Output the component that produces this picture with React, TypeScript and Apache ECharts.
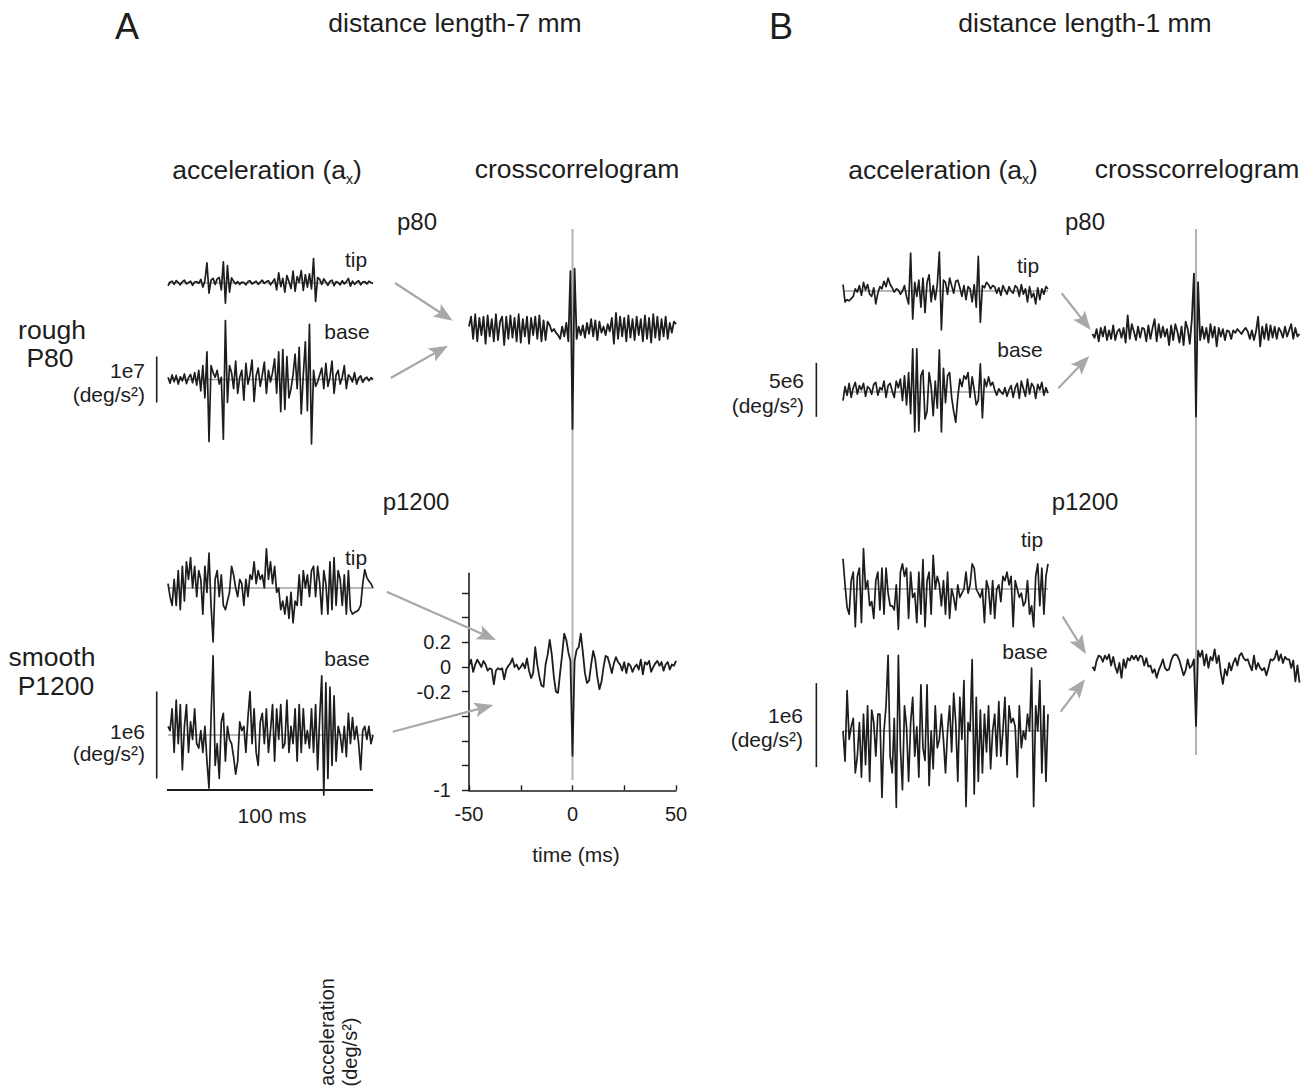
import React, { useEffect, useRef } from "react";
import * as echarts from "echarts";

// ---------- acceleration a_x, 100-ms windows (units: 1e6 deg/s^2) ----------
const WINDOW_MS = 100;

const A_P80_TIP = [
  -0.6, 0.2, 0.4, -0.3, 0.5, 0.1, -0.4, 0.3, 0.6, -0.2, 0.1, 0.4, -0.5, 0.2, 0.3, -0.1,
  0.8, -0.9, 0.5,
  4.4, -2.2, 0.6, 1.0, -0.3, 0.9, 1.2, -1.5, 4.6, -4.4, 3.8, -2.0, 1.1, 0.4, -0.2, 0.3,
  -0.3, 0.2, 0.1, -0.4, 0.3, 0.5, -0.2, 0.1, 0.4, -0.3, 0.2, 0.6, -0.1, 0.3, 0.5, -0.4, 0.2,
  0.9, -1.5, 2.2, -0.8, 1.0, -2.0, 1.6, 0.3, -1.2, 2.6, -1.8, 1.4, 0.2, 2.7, -1.6, 1.8, -0.9, 2.0, -1.3, 5.3, -4.0,
  1.2, 0.8, -0.3, 0.9, 0.2, -0.5, 0.4, 0.6, -0.6, 0.3, 0.1, -0.4, 0.5, -0.2, 0.3, 1.0, -0.7, 0.4, -0.3, 0.2, 0.5,
  -0.4, 0.2, 0.3, -0.2, 0.4, 0.1, -0.1,
];

const A_P80_BASE = [
  0.5, -0.8, 1.0, -0.5, 0.9, -1.0, 0.6, -0.3, 1.2, -0.9, 0.4, 1.1, -0.7, 1.5, -1.2,
  2.0, -2.5, 3.0, -4.0,
  6.0, -13.5, 3.0, 1.5, 0.5, 2.0, -1.0, 0.5, -13.0, 12.8, -5.0, 3.0,
  1.5, -2.0, 4.0, -3.0, 0.5, 2.0, -4.5, 3.5, -1.0, 1.0, 4.2, -4.8, 0.8, 2.5, -1.5, 1.0, 3.8, -3.0, 2.0, -0.5, 1.5, 4.5,
  -3.0, 6.0, -7.0, 6.5, -6.5, 5.0, -4.0, -2.0, 1.0, 5.5, -2.0, 7.0, -7.5, 1.0, 8.2, -6.8, 12.0, -14.0, 2.0, -1.5,
  -0.5, 1.0, 2.5, -2.0, 3.5, -1.5, 0.5, 4.0, -3.0, 1.0, 2.0, -1.0, 0.5, 3.0, -2.0, 1.0, 0.5, -0.5, 1.5, -1.0,
  0.3, 0.8, -0.6, 0.2, 0.5, -0.3, 0.4, 0.0,
];

const A_P1200_TIP = [
  0.05, -0.1, -0.2, 0.1, -0.2, 0.2, -0.25, 0.25, -0.15, 0.3, 0.1, 0.35, 0.0, 0.25, -0.1, 0.2, 0.1, -0.3, 0.25, -0.05,
  0.4, -0.2,
  -0.62, 0.1, 0.2, -0.1, 0.15, -0.2, -0.25, -0.15, -0.05, 0.25, 0.15, 0.0, -0.1, 0.1, 0.05, -0.2, 0.1, -0.1, 0.15,
  0.1, 0.3, 0.05, 0.2, 0.1, 0.15, 0.0, 0.45, 0.1, 0.3, 0.05, 0.25, -0.05, 0.0, -0.25, -0.15, -0.3, -0.1, -0.35,
  -0.05, -0.4, -0.15, -0.2, 0.15, -0.2, 0.2, 0.0, 0.15, -0.1, 0.2, 0.25, -0.1, 0.25, 0.05, -0.3, 0.2, 0.05, -0.3,
  0.3, -0.25, 0.35, -0.2, 0.2, 0.1,
  -0.2, 0.15, -0.3, 0.2, -0.25, -0.3, -0.28, -0.27, -0.25, -0.2, 0.05, 0.21, 0.12, 0.08, 0.05, 0.0,
];

const A_P1200_BASE = [
  0.1, 0.05, 0.3, -0.2, 0.4, -0.1, 0.35, -0.4, 0.1, 0.35, -0.2, 0.15, -0.05, 0.3, -0.1, -0.15, 0.05, -0.2, 0.1, -0.3,
  -0.61, 0.2, 0.91, -0.35, -0.1, -0.5, 0.15, 0.25, -0.3, 0.1,
  -0.05, -0.1, -0.25, -0.45, -0.3, 0.15, 0.05, 0.1, -0.2, 0.2,
  0.5, -0.1, 0.3, -0.2, -0.35, 0.15, 0.25, -0.1, 0.3, -0.2,
  0.05, 0.35, -0.3, 0.3, -0.05, 0.35, -0.15, -0.1, 0.4, -0.2,
  0.1, -0.1, 0.3, -0.3, 0.35, -0.2, 0.3, -0.1, 0.05, -0.15,
  0.3, -0.2, 0.35, -0.4, 0.2, 0.68, -0.69, 0.6, -0.5, 0.55,
  -0.35, 0.45, -0.3, 0.1, 0.0, -0.2, 0.1, -0.25, 0.25, -0.1,
  0.2, -0.05, 0.1, -0.1, -0.4, 0.05, 0.1, -0.05, 0.1, -0.1, 0.0,
];

const B_P80_TIP = [
  0.6, -1.0, -0.8, -0.9, -0.7, -0.5, 0.2, -0.1, 0.5, -0.4, 0.8, 0.1, 0.6, -0.3, -0.5, 0.3, -1.2, -0.2, 0.4, 0.2,
  0.9, 0.4, 1.2, 0.6, 0.3, -0.1, 0.2, 0.1, -0.3, 0.0, 0.5, -0.5, -1.2,
  3.5, -2.6, 0.8, -0.5, 1.0, -1.5, 1.2, -2.0, 0.8, 1.5, -1.0, 0.5, -0.8, 0.6, 3.6, -3.6, 1.0, 0.8, -0.3, 1.2,
  0.5, -0.2, 0.9, 1.0, 0.3, -0.5, 0.5, -0.8, 0.4, 0.2, -1.0, 0.6, -1.5, 3.2, -2.9, 0.5, 0.3, 0.8, 0.6, 0.2,
  0.5, 0.4, -0.2, 0.3, -0.4, 0.5, 0.1, -0.3, 0.4, 0.0, -0.2, 0.5, 0.3, -0.5, 0.6, -0.3, 0.2, -1.0, 0.4, -0.6,
  -0.2, -1.2, 0.3, -0.8, 0.2, -0.3, 0.4, 0.2,
];

const B_P80_BASE = [
  -0.8, 0.5, -0.3, 0.8, -0.5, 0.4, 0.9, -0.2, 0.6, 0.2, 0.8, -0.4, 0.5, 0.3, -0.2, 0.7, 0.9, -0.3, 0.4, 0.2,
  1.0, -0.5, 0.6, 0.8, 0.1,
  -0.5, 1.0, 0.4, 1.2, -0.8, 1.5, -1.2, 1.8, -2.0,
  4.0, -3.7, 4.0, -3.6, 1.5, 2.0, -2.5, -1.8, 1.8, 0.5, -2.2, 1.0, -1.5, 3.9, -3.7, 2.2, -1.0, 1.5, 1.8, -0.5,
  -1.8, -2.8, -0.5, 1.2, 0.5, 1.5, 1.2, 1.8, -0.5, 1.4, 0.2, -1.2, -0.8, 2.6, -2.4, 1.2, 0.5, 1.4, 0.6, 0.9,
  0.2, -0.3, 0.3, 0.0, -0.2, 0.4, -0.4, 0.2, 0.6, -0.5, 0.4, 0.8, -0.6, 1.0, 0.3, -0.4, 1.2, -0.2, 0.8, 0.5,
  -0.6, 0.7, 0.2, 0.9, -0.3, 0.4, -0.1,
];

const B_P1200_TIP = [
  0.36, 0.05, -0.22, -0.3, 0.1, 0.2, -0.45, 0.15, 0.25, -0.4, 0.48, 0.0, 0.1, -0.2, -0.15, -0.35, 0.1, 0.2, -0.25, 0.25,
  -0.3, 0.25, -0.05, -0.2, -0.2, -0.25, 0.05, -0.48, 0.2, 0.3, 0.15, 0.25, -0.35, 0.2, -0.1, -0.05, -0.4, 0.2, -0.3, 0.35,
  -0.45, 0.1, 0.2, -0.3, 0.4, 0.0, 0.15, 0.05, -0.2, 0.1, -0.3, 0.2, -0.35, 0.0, -0.1, -0.25, 0.05, -0.1, -0.05, 0.0,
  0.2, -0.05, 0.05, 0.3, 0.25, 0.0, -0.05, -0.1, 0.0, -0.4, 0.1, 0.0, -0.3, 0.1, -0.35, 0.0, 0.05, -0.15, 0.15, 0.1,
  0.2, 0.05, 0.15, -0.45, 0.1, 0.0, -0.1, -0.05, -0.2, -0.15, 0.1, -0.3, -0.2, -0.45, 0.15, 0.3, -0.2, 0.25, -0.3, 0.15,
  0.3,
];

const B_P1200_BASE = [
  0.0, -0.36, 0.48, -0.1, 0.05, 0.15, -0.5, -0.3, 0.1, -0.55, 0.2, -0.4, 0.3, -0.6, 0.25, 0.1, -0.3, 0.2, 0.2, -0.79,
  0.0, 0.3, 0.9, -0.3, -0.5, 0.15, -0.91, 0.9, -0.2, -0.7, 0.3, 0.05, -0.6, 0.1, 0.4, -0.3, 0.05, -0.55, 0.55, -0.2,
  -0.35, 0.55, -0.65, 0.0, -0.45, 0.3, -0.2, -0.1, 0.2, -0.1, -0.5, 0.0, 0.3, -0.25, 0.45, 0.1, -0.6, 0.4, -0.1, 0.6,
  -0.9, 0.1, 0.0, 0.85, -0.75, 0.4, -0.6, 0.25, -0.5, 0.2, -0.25, 0.3, -0.45, 0.0, 0.2, -0.3, 0.35, -0.3, 0.0, 0.4,
  -0.4, 0.3, 0.1, 0.15, 0.05, -0.55, 0.3, -0.2, 0.0, -0.1, 0.2, 0.0, 0.75, -0.9, 0.3, 0.0, 0.6, -0.5, 0.3, -0.6,
  0.2,
];

// ---------- tip/base crosscorrelograms, lag -50 .. 50 ms ----------
const LAG_MIN = -50;

const XC_A_P80 = [
  0.02, 0.1, -0.08, 0.12, -0.1, 0.09, -0.05, 0.1, -0.12, 0.11, -0.06, 0.08, -0.1, 0.12, -0.09, 0.06, 0.1, -0.13, 0.1, -0.08,
  0.11, -0.07, 0.09, -0.1, 0.12, -0.11, 0.08, -0.06, 0.1, -0.12, 0.09, -0.05, 0.1, -0.08, 0.11, -0.1, 0.07, -0.09, 0.06, 0.03,
  -0.02, 0.0, -0.03, -0.05, -0.08, 0.02, -0.06, 0.05, -0.1,
  0.47, -0.81, 0.49,
  -0.08, 0.02, -0.05, 0.03, -0.07, 0.05, -0.04, 0.08, -0.06, 0.07, -0.09, 0.06, -0.03, 0.02, -0.05, 0.04, -0.02, 0.09,
  -0.12, 0.13, -0.08, 0.1, -0.06, 0.09, -0.1, 0.11, -0.07, 0.08, -0.09, 0.1, -0.05, 0.08, -0.1, 0.11, -0.08, 0.09,
  -0.11, 0.12, -0.07, 0.1, -0.09, 0.08, -0.06, 0.1, -0.08, 0.05, -0.03, 0.06, 0.04,
];

const XC_A_P1200 = [
  0.01, 0.06, -0.04, 0.02, 0.06, 0.03, 0.0, 0.05, 0.02, -0.03, -0.01, -0.02, -0.14, -0.03, -0.01, -0.02, -0.01, -0.1,
  -0.02, 0.01, 0.03, 0.07, 0.0, 0.02, -0.02, 0.0, 0.03, -0.01, 0.07, -0.03, -0.09, -0.05, 0.16, 0.02, -0.08, -0.15,
  -0.16, 0.02, 0.1, 0.22, 0.1, -0.08, -0.2, -0.21, -0.05, 0.1, 0.27, 0.22, 0.12, 0.05,
  -0.72,
  0.05, 0.14, 0.16, 0.27, 0.12, -0.05, -0.13, -0.11, 0.02, 0.13, 0.06, -0.08, -0.18, -0.12, 0.0, 0.09, 0.08, 0.02,
  -0.05, 0.03, 0.08, 0.04, 0.02, -0.03, 0.04, -0.05, 0.03, 0.01, -0.04, 0.0, 0.02, -0.02, 0.06, -0.06, 0.04, 0.02,
  0.05, -0.04, 0.0, 0.03, 0.05, 0.01, 0.04, -0.03, 0.02, 0.04, -0.02, 0.02, 0.01, 0.05,
];

const XC_B_P80 = [
  0.0, -0.03, 0.04, -0.06, 0.05, -0.02, 0.06, -0.05, 0.03, -0.04, 0.07, -0.05, 0.02, 0.04, -0.03, 0.05, -0.07, 0.15,
  -0.04, 0.08, 0.02, -0.05, 0.06, -0.03, 0.05, 0.04, -0.06, 0.07, -0.04, 0.05, 0.12, -0.06, 0.08, -0.03, 0.06, -0.02,
  0.04, -0.09, 0.07, -0.05, 0.08, 0.02, -0.07, 0.06, -0.09, 0.1, 0.04, -0.08, 0.12,
  0.49, -0.67, 0.42,
  -0.05, 0.06, -0.04, 0.05, -0.07, 0.08, -0.03, 0.06, -0.1, 0.05, -0.02, 0.04, -0.05, 0.03, 0.02, -0.04, 0.03, 0.01,
  0.04, 0.02, 0.0, 0.03, 0.05, 0.02, -0.04, 0.03, -0.05, 0.02, 0.14, -0.1, 0.06, -0.04, 0.08, -0.05, 0.07, -0.03,
  0.06, -0.04, 0.05, 0.02, -0.03, 0.06, -0.02, 0.03, 0.08, -0.04, 0.05, -0.02, 0.0,
];

const XC_B_P1200 = [
  -0.03, -0.06, 0.02, 0.06, 0.05, 0.01, 0.06, 0.03, 0.07, -0.02, 0.05, -0.03, -0.08, 0.0, -0.12, 0.03, -0.04, 0.04,
  0.02, 0.06, 0.03, 0.06, 0.02, 0.06, 0.05, -0.02, 0.04, -0.03, -0.02, -0.08, -0.05, -0.12, -0.06, -0.02, 0.03, -0.04,
  -0.06, -0.05, 0.02, 0.06, 0.07, 0.06, 0.02, -0.04, -0.1, -0.06, 0.03, -0.04, -0.02, 0.03,
  -0.51,
  0.1, 0.05, 0.1, -0.02, 0.07, -0.04, 0.05, 0.02, 0.11, 0.0, 0.06, -0.08, -0.17, -0.05, -0.1, 0.0, -0.06, 0.0, 0.04,
  -0.02, 0.06, 0.08, 0.04, 0.02, 0.03, -0.02, -0.06, 0.06, -0.05, 0.0, -0.04, -0.06, -0.04, -0.1, -0.04, 0.03, 0.02,
  0.04, 0.1, 0.02, 0.07, 0.0, 0.05, 0.03, 0.03, -0.04, 0.02, -0.15, -0.02, -0.16,
];

// axis of the p1200 crosscorrelogram in panel A
const CORR_TICKS = [-1, -0.8, -0.6, -0.4, -0.2, 0, 0.2, 0.4, 0.6];
const CORR_LABELS = [-1, -0.2, 0, 0.2];
const LAG_TICKS = [-50, -25, 0, 25, 50];
const LAG_LABELS = [-50, 0, 50];

// scale bars (1e6 deg/s^2) and the time bar (ms)
const BAR_A_P80 = 10; // 1e7
const BAR_A_P1200 = 1; // 1e6
const BAR_B_P80 = 5; // 5e6
const BAR_B_P1200 = 1; // 1e6
const TIME_BAR_MS = 100;

const FONT = "'Liberation Sans', Arial, Helvetica, sans-serif";
const INK = "#1d1d1d";
const GRAY = "#a8a8a8";
const BASE_GRAY = "#a0a0a0";

const HEAD = 26.5; // column headings and row names
const SMALL = 21; // tip/base, scale-bar units

type Panel = {
  x0: number; // pixel of x = 0
  pxX: number; // pixels per x unit
  zeroY: number; // pixel of y = 0
  pxY: number; // pixels per y unit
  xMin: number;
  xMax: number;
  yMin: number;
  yMax: number;
};

function buildOption() {
  const grids: any[] = [];
  const xAxes: any[] = [];
  const yAxes: any[] = [];
  const series: any[] = [];

  const addGrid = (p: Panel, xAxisExtra: any = null, yAxisExtra: any = null) => {
    const idx = grids.length;
    grids.push({
      left: p.x0 + p.xMin * p.pxX,
      width: (p.xMax - p.xMin) * p.pxX,
      top: p.zeroY - p.yMax * p.pxY,
      height: (p.yMax - p.yMin) * p.pxY,
      containLabel: false,
      outerBoundsMode: "none",
    });
    xAxes.push(
      xAxisExtra
        ? { type: "value", gridIndex: idx, min: p.xMin, max: p.xMax, ...xAxisExtra }
        : { type: "value", gridIndex: idx, min: p.xMin, max: p.xMax, show: false }
    );
    yAxes.push(
      yAxisExtra
        ? { type: "value", gridIndex: idx, min: p.yMin, max: p.yMax, ...yAxisExtra }
        : { type: "value", gridIndex: idx, min: p.yMin, max: p.yMax, show: false }
    );
    return idx;
  };

  const line = (idx: number, data: number[][], color: string, width: number, z: number) => {
    series.push({
      type: "line",
      xAxisIndex: idx,
      yAxisIndex: idx,
      data,
      symbol: "none",
      showSymbol: false,
      silent: true,
      clip: false,
      lineStyle: { color, width, join: "round" },
      z,
    });
  };

  const accTrace = (
    values: number[],
    x0: number,
    pxX: number,
    zeroY: number,
    pxY: number,
    bar: null | { x: number; lo: number; hi: number }
  ) => {
    const span = 160 / pxY;
    const idx = addGrid({ x0, pxX, zeroY, pxY, xMin: -16, xMax: WINDOW_MS, yMin: -span, yMax: span });
    const n = values.length;
    line(idx, [[0, 0], [WINDOW_MS, 0]], BASE_GRAY, 1.4, 1);
    line(idx, values.map((v, i) => [(i * WINDOW_MS) / (n - 1), v]), INK, 1.7, 3);
    if (bar) line(idx, [[bar.x, bar.lo], [bar.x, bar.hi]], INK, 1.6, 3);
    return idx;
  };

  const corrTrace = (values: number[], lag0X: number, zeroY: number) => {
    const idx = addGrid({ x0: lag0X, pxX: 2.07, zeroY, pxY: 123.3, xMin: -50, xMax: 50, yMin: -1, yMax: 0.8 });
    line(idx, values.map((v, i) => [LAG_MIN + i, v]), INK, 1.8, 3);
  };

  const lagZero = (lag0X: number, top: number, bottom: number) => {
    const idx = addGrid({ x0: lag0X, pxX: 2.07, zeroY: bottom, pxY: bottom - top, xMin: -50, xMax: 50, yMin: 0, yMax: 1 });
    line(idx, [[0, 0], [0, 1]], "#b4b4b4", 2, 1);
  };

  // ---- panel A, distance 7 mm ----
  accTrace(A_P80_TIP, 168, 2.05, 283, 4.6, null);
  accTrace(A_P80_BASE, 168, 2.05, 379.5, 4.6, { x: -5.5, lo: -BAR_A_P80 / 2, hi: BAR_A_P80 / 2 });
  accTrace(A_P1200_TIP, 168, 2.05, 588, 87, null);
  const aBase = accTrace(A_P1200_BASE, 168, 2.05, 735, 87, { x: -5.5, lo: -BAR_A_P1200 / 2, hi: BAR_A_P1200 / 2 });
  line(aBase, [[-0.5, -0.632], [TIME_BAR_MS, -0.632]], INK, 1.8, 3);

  lagZero(572.5, 229, 780);
  corrTrace(XC_A_P80, 572.5, 329);

  // p1200 crosscorrelogram with its own axes
  const axisIdx = addGrid(
    { x0: 572.5, pxX: 2.07, zeroY: 667, pxY: 123.3, xMin: -50, xMax: 50, yMin: -1, yMax: 0.76 },
    {
      axisLine: { show: true, onZero: false, lineStyle: { color: INK, width: 1.6 } },
      axisTick: { show: true, inside: true, length: 5, customValues: LAG_TICKS, lineStyle: { color: INK, width: 1.4 } },
      axisLabel: { show: true, customValues: LAG_LABELS, fontSize: 20, fontFamily: FONT, color: INK, margin: 14 },
      splitLine: { show: false },
    },
    {
      axisLine: { show: true, onZero: false, lineStyle: { color: INK, width: 1.6 } },
      axisTick: { show: true, inside: false, length: 7, customValues: CORR_TICKS, lineStyle: { color: INK, width: 1.4 } },
      axisLabel: {
        show: true,
        customValues: CORR_LABELS,
        fontSize: 20,
        fontFamily: FONT,
        color: INK,
        margin: 18,
        formatter: (v: number) => String(Math.round(v * 10) / 10),
      },
      splitLine: { show: false },
    }
  );
  line(axisIdx, XC_A_P1200.map((v, i) => [LAG_MIN + i, v]), INK, 1.8, 3);

  // ---- panel B, distance 1 mm ----
  accTrace(B_P80_TIP, 843, 2.05, 291, 10.8, null);
  accTrace(B_P80_BASE, 843, 2.05, 392, 10.8, { x: -13, lo: -2.3, hi: -2.3 + BAR_B_P80 });
  accTrace(B_P1200_TIP, 843, 2.05, 589, 84, null);
  accTrace(B_P1200_BASE, 843, 2.05, 731, 84, { x: -13, lo: -0.43, hi: -0.43 + BAR_B_P1200 });

  lagZero(1196, 229, 755);
  corrTrace(XC_B_P80, 1196, 334);
  corrTrace(XC_B_P1200, 1196, 663);

  return { grids, xAxes, yAxes, series };
}

function text(
  str: string,
  x: number,
  y: number,
  size: number,
  align: "left" | "center" | "right" = "center",
  rotation = 0
) {
  return {
    type: "text",
    x,
    y,
    rotation,
    silent: true,
    z: 10,
    style: {
      text: str,
      fontSize: size,
      fontFamily: FONT,
      fill: INK,
      align,
      textAlign: align,
      verticalAlign: "middle",
      textVerticalAlign: "middle",
    },
  };
}

function accelHeading(x: number, y: number) {
  return {
    type: "text",
    x,
    y,
    silent: true,
    z: 10,
    style: {
      text: "{m|acceleration (a}{s|x}{m|)}",
      align: "center",
      textAlign: "center",
      verticalAlign: "middle",
      textVerticalAlign: "middle",
      rich: {
        m: { fontSize: HEAD, fontFamily: FONT, fill: INK, lineHeight: 32 },
        s: { fontSize: 14, fontFamily: FONT, fill: INK, lineHeight: 32, verticalAlign: "bottom" },
      },
    },
  };
}

function arrow(x1: number, y1: number, x2: number, y2: number) {
  const dx = x2 - x1;
  const dy = y2 - y1;
  const len = Math.hypot(dx, dy);
  const ux = dx / len;
  const uy = dy / len;
  const head = 19;
  const half = 7.5;
  const bx = x2 - ux * head;
  const by = y2 - uy * head;
  return [
    {
      type: "line",
      silent: true,
      z: 5,
      shape: { x1, y1, x2: bx + ux * 4, y2: by + uy * 4 },
      style: { stroke: GRAY, lineWidth: 2.2 },
    },
    {
      type: "polygon",
      silent: true,
      z: 5,
      shape: {
        points: [
          [x2, y2],
          [bx - uy * half, by + ux * half],
          [bx + ux * 4, by + uy * 4],
          [bx + uy * half, by - ux * half],
        ],
      },
      style: { fill: GRAY },
    },
  ];
}

const UNIT = "(deg/s\u00B2)";

function buildGraphics() {
  return [
    text("A", 127, 26, 36),
    text("distance length-7 mm", 455, 23, HEAD),
    text("B", 781, 26, 36),
    text("distance length-1 mm", 1085, 23, HEAD),

    accelHeading(267, 170),
    text("crosscorrelogram", 577, 169, HEAD),
    accelHeading(943, 170),
    text("crosscorrelogram", 1197, 169, HEAD),

    text("p80", 417, 221, 24),
    text("p1200", 416, 501, 24),
    text("p80", 1085, 221, 24),
    text("p1200", 1085, 501, 24),

    text("tip", 356, 259, SMALL),
    text("base", 347, 331, SMALL),
    text("tip", 356, 557, SMALL),
    text("base", 347, 658, SMALL),
    text("tip", 1028, 265, SMALL),
    text("base", 1020, 349, SMALL),
    text("tip", 1032, 539, SMALL),
    text("base", 1025, 651, SMALL),

    text("rough", 52, 330, HEAD),
    text("P80", 50, 358, HEAD),
    text("smooth", 52, 657, HEAD),
    text("P1200", 56, 686, HEAD),

    text("1e7", 145, 370, SMALL, "right"),
    text(UNIT, 145, 394, SMALL, "right"),
    text("1e6", 145, 731, SMALL, "right"),
    text(UNIT, 145, 753, SMALL, "right"),
    text("5e6", 804, 380, SMALL, "right"),
    text(UNIT, 804, 405, SMALL, "right"),
    text("1e6", 803, 715, SMALL, "right"),
    text(UNIT, 803, 739, SMALL, "right"),

    text("100 ms", 272, 815, 21),
    text("time (ms)", 576, 854, 21),

    text("acceleration", 327, 1032, 20, "center", Math.PI / 2),
    text(UNIT, 350, 1052, 20, "center", Math.PI / 2),

    ...arrow(395, 283, 452.7, 320.7),
    ...arrow(390.7, 378, 448, 345.7),
    ...arrow(386.7, 591.7, 496, 640),
    ...arrow(392.7, 731.7, 493.3, 705),
    ...arrow(1061.7, 293.3, 1090.7, 330),
    ...arrow(1058.3, 388.3, 1089.3, 356),
    ...arrow(1062.7, 616.7, 1086, 654),
    ...arrow(1060.7, 711.7, 1085, 679.3),
  ];
}

export default function App() {
  const ref = useRef<HTMLDivElement>(null);

  useEffect(() => {
    if (!ref.current) return;
    const chart = echarts.init(ref.current, null, { renderer: "svg" });
    const { grids, xAxes, yAxes, series } = buildOption();
    chart.setOption({
      animation: false,
      backgroundColor: "#ffffff",
      textStyle: { fontFamily: FONT },
      grid: grids,
      xAxis: xAxes,
      yAxis: yAxes,
      series,
      graphic: { elements: buildGraphics() },
    });
    return () => chart.dispose();
  }, []);

  return (
    <div
      ref={ref}
      style={{ position: "absolute", left: 0, top: 0, width: 1313, height: 1092, background: "#ffffff" }}
    />
  );
}
